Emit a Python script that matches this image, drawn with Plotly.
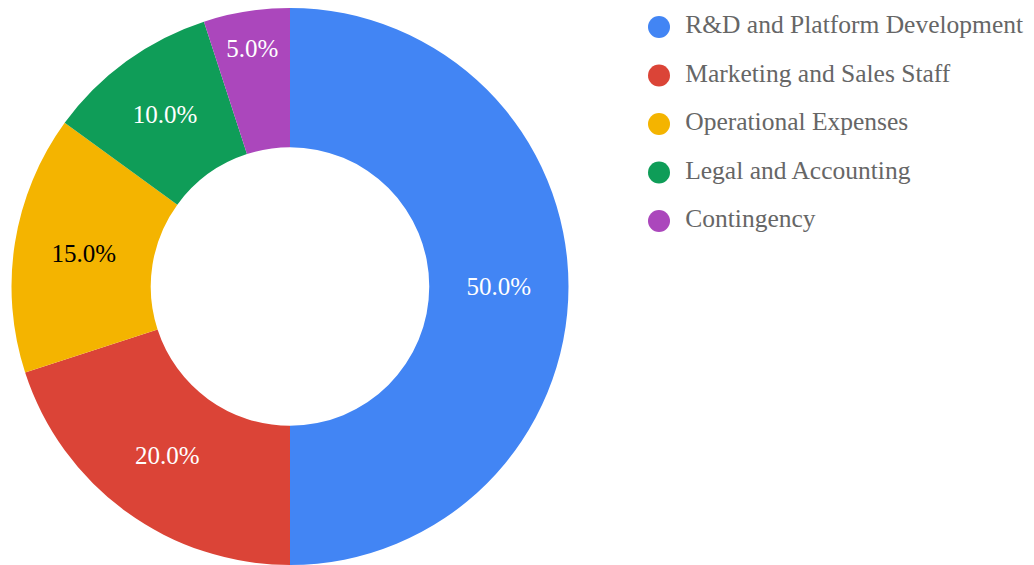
import plotly.graph_objects as go

categories = ["R&D and Platform Development", "Marketing and Sales Staff",
              "Operational Expenses", "Legal and Accounting", "Contingency"]
values = [50, 20, 15, 10, 5]
colors = ["#4285F4", "#DB4437", "#F4B400", "#0F9D58", "#AB47BC"]
text_colors = ["white", "white", "black", "white", "white"]

FONT = "Liberation Serif"
OFF = 8  # page body margin
W, H = 1034 - OFF, 565 - OFF

fig = go.Figure()
fig.add_trace(go.Pie(
    labels=categories, values=values, hole=0.5, sort=False,
    direction="clockwise", rotation=0,
    marker=dict(colors=colors, line=dict(width=0)),
    texttemplate="%{percent:.1%}", textposition="inside",
    insidetextorientation="horizontal",
    textfont=dict(family=FONT, size=25, color=text_colors),
    domain=dict(x=[(290 - OFF - 279) / W, (290 - OFF + 279) / W],
                y=[0.0, 1.0]),
    showlegend=False, hoverinfo="label+percent",
))

# custom legend with circle markers, one row per category
idx = list(range(len(categories)))
fig.add_trace(go.Scatter(
    x=[0] * len(categories), y=idx, mode="markers+text",
    marker=dict(symbol="circle", size=22, color=colors),
    text=[" \u2009" + c for c in categories], textposition="middle right",
    textfont=dict(family=FONT, size=25.5, color="#666666"),
    cliponaxis=False, hoverinfo="skip", showlegend=False,
    xaxis="x", yaxis="y",
))

row = 48.5
top_y = 27 - OFF
fig.update_layout(
    width=W, height=H,
    margin=dict(l=0, r=0, t=0, b=0),
    paper_bgcolor="white", plot_bgcolor="rgba(0,0,0,0)",
    xaxis=dict(visible=False, domain=[0.6, 1.0],
               range=[-(659 - OFF - 0.6 * W), (1.0 - 0.6) * W - (659 - OFF - 0.6 * W)],
               fixedrange=True),
    yaxis=dict(visible=False, domain=[0.5, 1.0],
               range=[-top_y / row + (0.5 * H) / row, -top_y / row],
               fixedrange=True),
    showlegend=False,
    font=dict(family=FONT),
)

fig.write_html("out.html")
